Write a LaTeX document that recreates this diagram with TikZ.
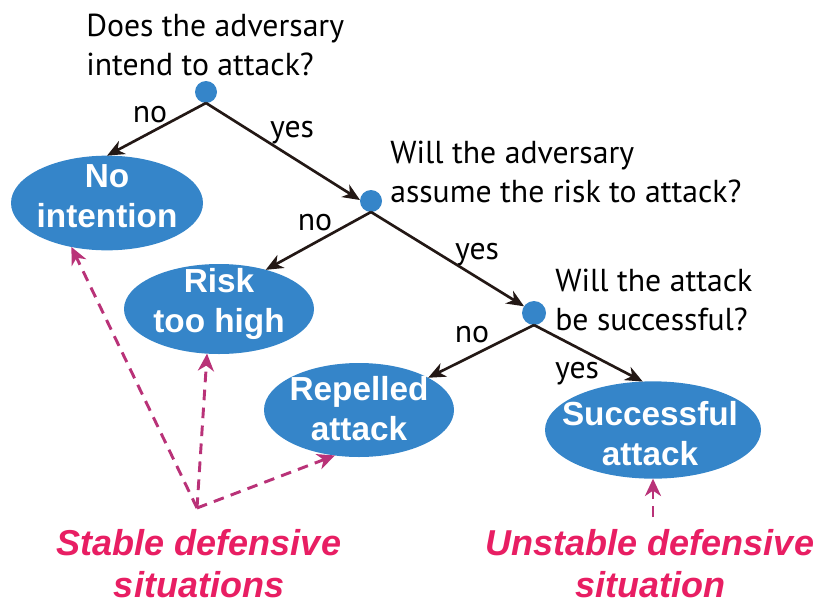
\documentclass[tikz,border=0pt]{standalone}
\usepackage{fontspec}
\usetikzlibrary{arrows.meta,shapes.geometric}
\newfontfamily\qfont{PT Sans}
\newfontfamily\bfont{Liberation Sans}
\definecolor{nodeblue}{RGB}{53,133,201}
\definecolor{arrowblack}{RGB}{35,24,21}
\definecolor{pinktext}{RGB}{232,30,99}
\definecolor{pinkarrow}{RGB}{185,50,120}
\begin{document}
\begin{tikzpicture}[x=0.75pt,y=-0.75pt,
  outcome/.style={ellipse, fill=nodeblue, draw=none, inner sep=0pt, outer sep=0pt},
  outtext/.style={text=white, font=\bfont\bfseries\fontsize{25}{29.5}\selectfont, align=center, inner sep=0pt, anchor=base},
  dotnode/.style={circle, fill=nodeblue, inner sep=0pt, outer sep=0pt, minimum size=16.5pt},
  question/.style={font=\qfont\fontsize{23.8}{29.25}\selectfont, align=left, inner sep=0pt, anchor=base west},
  answer/.style={font=\qfont\fontsize{23.8}{29.25}\selectfont, inner sep=0pt, anchor=base},
  branch/.style={draw=arrowblack, line width=2pt, -{Stealth[length=13pt,width=11pt,inset=4pt]}},
  pointer/.style={draw=pinkarrow, line width=2.2pt, dash pattern=on 8pt off 5.5pt, -{Stealth[length=13pt,width=12pt,inset=4pt]}},
  verdict/.style={text=pinktext, font=\bfont\bfseries\itshape\fontsize{27}{31.5}\selectfont, align=center, inner sep=0pt, anchor=base}
]
\useasboundingbox (0,0) rectangle (816,603);

% decision dots
\node[dotnode] (d1) at (206,92) {};
\node[dotnode] (d2) at (371,201) {};
\node[dotnode, minimum size=18pt] (d3) at (534,313) {};

% outcome ellipses
\node[outcome, minimum width=144pt, minimum height=71pt] (noint) at (107,203) {};
\node[outcome, minimum width=142.5pt, minimum height=67.5pt] (risk) at (219,309) {};
\node[outcome, minimum width=142.5pt, minimum height=70.5pt] (rep) at (359,410) {};
\node[outcome, minimum width=162pt, minimum height=73pt] (succ) at (653,430) {};

\node[outtext] (tnoint) at (107,227) {No\\intention};
\node[outtext] (trisk) at (219,332) {Risk\\too high};
\node[outtext] (trep) at (359,440) {Repelled\\attack};
\node[outtext] (tsucc) at (650,465) {Successful\\attack};

% questions
\node[question] (q1) at (86,75) {Does the adversary\\intend to attack?};
\node[question] (q2) at (390,202) {Will the adversary\\assume the risk to attack?};
\node[question] (q3) at (555,330) {Will the attack\\be successful?};

% answers
\node[answer] (no1) at (150,122) {no};
\node[answer] (yes1) at (292,137) {yes};
\node[answer] (no2) at (315,230) {no};
\node[answer] (yes2) at (477,259) {yes};
\node[answer] (no3) at (472,342) {no};
\node[answer] (yes3) at (577,378) {yes};

% branches
\draw[branch] (d1.south) -- (noint.north);
\draw[branch] (d1.south) -- (d2.175);
\draw[branch] (d2.south) -- (risk.40);
\draw[branch] (d2.south) -- (d3.146);
\draw[branch] (d3.south) -- (rep.25);
\draw[branch] (d3.south) -- (succ.102);

% verdicts
\node[verdict] (stable) at (199,597) {Stable defensive\\situations};
\node[verdict] (unstable) at (650,597) {Unstable defensive\\situation};

\coordinate (sfrom) at (197,508);
\coordinate (ufrom) at (653,517);
\draw[pointer] (sfrom) -- (noint.231);
\draw[pointer] (sfrom) -- (risk.255);
\draw[pointer] (sfrom) -- (rep.242);
\draw[pointer] (ufrom) -- (succ.south);
\end{tikzpicture}
\end{document}
